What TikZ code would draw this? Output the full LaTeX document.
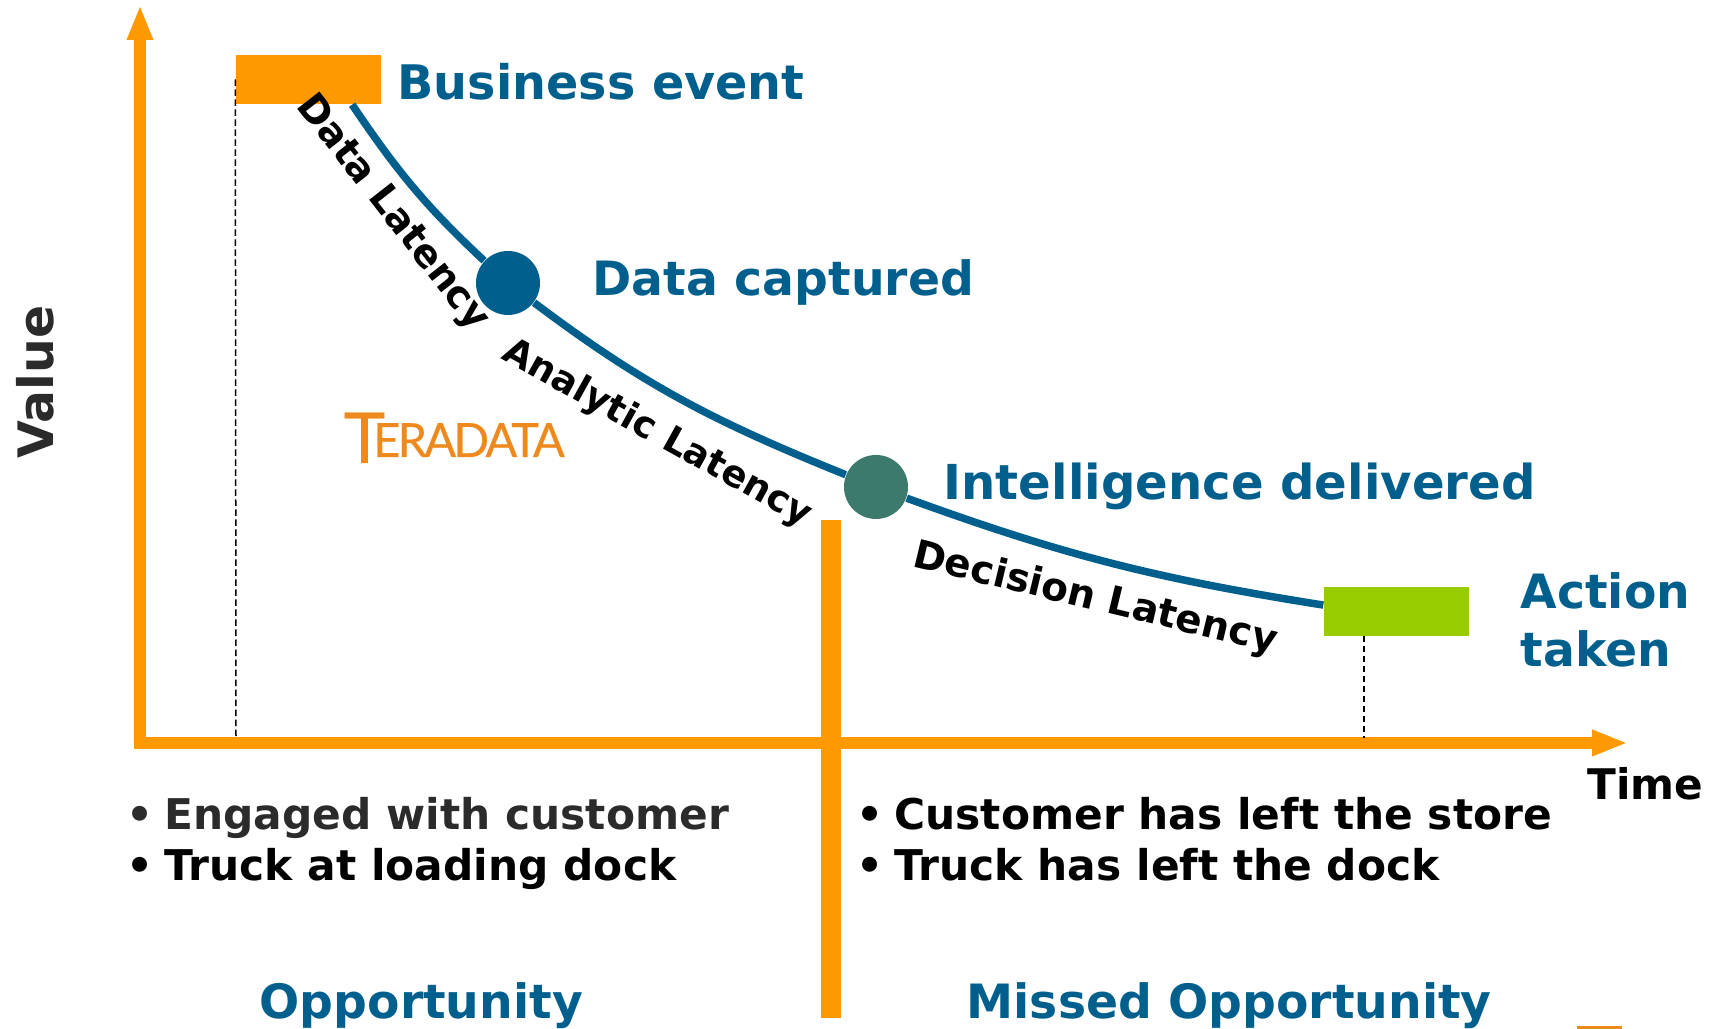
\documentclass[tikz,border=0pt]{standalone}
\usepackage{fontspec}
\setmainfont{DejaVu Sans}
\newfontfamily\logofont[LetterSpace=-6,FakeBold=0.3]{Lato}
\usetikzlibrary{arrows.meta}

\definecolor{naranja}{HTML}{FF9900}
\definecolor{azul}{HTML}{005F8C}
\definecolor{verde}{HTML}{3B7A6C}
\definecolor{lima}{HTML}{99CC00}
\definecolor{oscuro}{HTML}{2B2B2B}
\definecolor{logo}{HTML}{EE8A1D}

\tikzstyle{barra}= [rectangle,minimum width=1.45cm,minimum height=0.49cm,inner sep=0pt]
\tikzstyle{hito}= [circle,minimum size=0.64cm,inner sep=0pt]
\tikzstyle{titulo}= [anchor=base west,inner sep=0pt,azul,font=\fontsize{13.45}{16.5}\selectfont\bfseries]
\tikzstyle{lista}= [anchor=base west,inner sep=0pt,font=\fontsize{12.05}{14}\selectfont\bfseries]
\tikzstyle{latencia}= [inner sep=0pt,font=\fontsize{11}{14}\selectfont\bfseries]
\tikzstyle{eje}= [naranja,line width=0.12cm,miter limit=10]
\tikzstyle{guia}= [black,line width=0.015cm,dash pattern=on 0.065cm off 0.035cm]
\tikzstyle{curva}= [azul,line width=0.075cm]

\newcommand{\punto}{•\kern-0.04cm\ }

\begin{document}
\begin{tikzpicture}
		\useasboundingbox (0,0) rectangle (17.11,10.29);

		\coordinate (top) at (1.40,10.24);
		\coordinate (o) at (1.40,2.86);
		\coordinate (right) at (16.28,2.86);
		\coordinate (bar/t) at (8.31,5.09);
		\coordinate (bar/b) at (8.31,0.11);
		\coordinate (d1) at (2.36,2.92);
		\coordinate (d2) at (13.64,3.93);
		\coordinate (d3) at (13.64,2.91);

		\node (be) at (3.085,9.495) [barra,fill=naranja] {};
		\node (at) at (13.965,4.175) [barra,fill=lima] {};
		\node (dc) at (5.08,7.46) [hito,fill=azul] {};
		\node (id) at (8.76,5.42) [hito,fill=verde] {};
		\node (mark) at (15.995,0.015) [rectangle,fill=logo,minimum width=0.45cm,minimum height=0.03cm,inner sep=0pt] {};

		\draw[eje,{Triangle[length=0.35cm,width=0.24cm]}-{Triangle[length=0.36cm,width=0.24cm]}] (top) -- (o) -- (right);
		\path[naranja,line width=0.2cm] (bar/t) edge[] (bar/b);
		\path[guia] (be.west) edge[] (d1);
		\path[guia] (d2) edge[] (d3);

		\draw[curva] (be.-30) to[out=-56,in=137] (dc);
		\draw[curva] (dc) to[out=-37,in=158] (id);
		\draw[curva] (id) to[out=-20,in=171] (at.175);

		\node (t1) at (3.97,9.29) [titulo,font=\fontsize{13.55}{16.5}\selectfont\bfseries] {Business event};
		\node (t2) at (5.92,7.33) [titulo] {Data captured};
		\node (t3) at (9.43,5.29) [titulo,font=\fontsize{13.7}{16.5}\selectfont\bfseries] {Intelligence delivered};
		\node (t4) at (15.20,4.57) [titulo,align=left,anchor=north west] {Action\\taken};
		\node (t5) at (2.59,0.10) [titulo] {Opportunity};
		\node (t6) at (9.66,0.10) [titulo] {Missed Opportunity};

		\node (l1) at (3.92,8.155) [latencia,rotate=-52] {Data Latency};
		\node (l2) at (6.57,5.95) [latencia,rotate=-29,font=\fontsize{10.55}{14}\selectfont\bfseries] {Analytic Latency};
		\node (l3) at (10.95,4.295) [latencia,rotate=-13.5,font=\fontsize{11.1}{14}\selectfont\bfseries] {Decision Latency};

		\node (v) at (0.53,6.47) [latencia,anchor=base,rotate=90,oscuro,font=\fontsize{13.9}{14}\selectfont\bfseries] {Value};
		\node (time) at (15.87,2.29) [latencia,anchor=base west,font=\fontsize{12}{14}\selectfont\bfseries] {Time};

		\node (b1) at (1.26,1.99) [lista,oscuro] {\punto Engaged with customer};
		\node (b2) at (1.26,1.48) [lista] {\punto Truck at loading dock};
		\node (b3) at (8.56,1.99) [lista] {\punto Customer has left the store};
		\node (b4) at (8.56,1.48) [lista] {\punto Truck has left the dock};

		\node (logo) at (3.43,5.72) [anchor=base west,inner sep=0pt,logo,font=\logofont\fontsize{13.4}{14}\selectfont] {\raisebox{-0.06cm}{\fontsize{20}{20}\selectfont T}\kern-0.12cm ERADATA};
		\end{tikzpicture}
\end{document}
